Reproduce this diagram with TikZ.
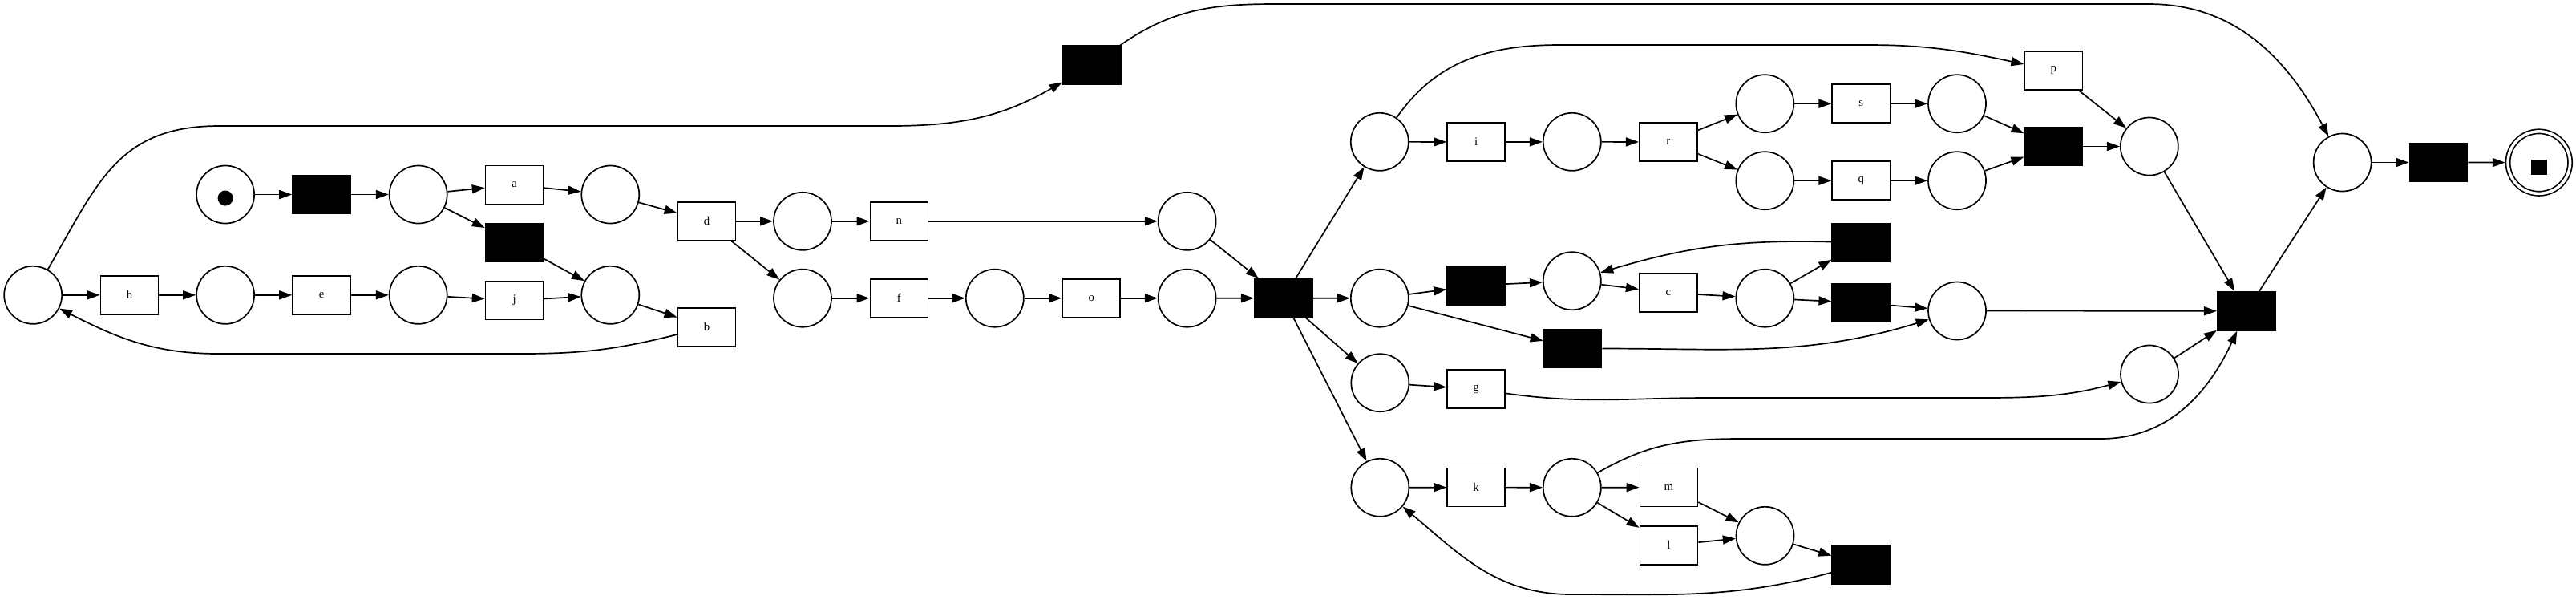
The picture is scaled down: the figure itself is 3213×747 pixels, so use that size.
\documentclass[tikz,border=0pt]{standalone}
\usepackage{fontspec}
\setmainfont{Liberation Serif}
\usetikzlibrary{arrows.meta}

\tikzset{
  place/.style={draw, circle, minimum size=0.72cm, inner sep=0pt, line width=0.48pt},
  trans/.style={draw, rectangle, minimum width=0.72cm, minimum height=0.48cm, inner sep=0pt,
    line width=0.48pt, font=\fontsize{4.2}{5}\selectfont},
  silent/.style={trans, fill=black},
  final/.style={place, double, double distance=0.035cm, minimum size=0.775cm, outer sep=0.033cm},
  arc/.style={-{Triangle[length=0.16cm,width=0.11cm]}, line width=0.48pt}
}

\begin{document}
\begin{tikzpicture}[x=0.01cm, y=0.01cm]
    \useasboundingbox (0,0) rectangle (3213,-747);

    \node[place] (src) at (281.1,-242.5) {};
    \fill ([yshift=-0.045cm]src.center) circle[radius=0.095cm];
    \node[silent] (t1) at (401.1,-242.5) {};
    \node[place] (p1) at (521.7,-242.5) {};
    \node[trans] (a) at (641.6,-230.5) {a};
    \node[silent] (t2) at (641.6,-302.5) {};
    \node[place] (p2) at (761.3,-242.5) {};
    \node[trans] (d) at (881.5,-275.8) {d};

    \node[place] (p0) at (41.2,-367.8) {};
    \node[trans] (h) at (161.5,-367.8) {h};
    \node[place] (p3) at (281.1,-367.8) {};
    \node[trans] (e) at (401.1,-367.8) {e};
    \node[place] (p4) at (521.7,-367.8) {};
    \node[trans] (j) at (641.6,-374.5) {j};
    \node[place] (p5) at (761.3,-367.8) {};
    \node[trans] (b) at (881.5,-407.8) {b};

    \node[silent] (t3) at (1361.8,-81.2) {};
    \node[place] (p6) at (1001,-275.8) {};
    \node[trans] (n) at (1121.4,-275.8) {n};
    \node[place] (p8) at (1480.6,-275.8) {};
    \node[place] (p7) at (1001,-371.7) {};
    \node[trans] (f) at (1121.4,-371.7) {f};
    \node[place] (p9) at (1240.8,-371.7) {};
    \node[trans] (o) at (1361.2,-371.7) {o};
    \node[place] (p10) at (1480.6,-371.7) {};
    \node[silent] (t4) at (1600.8,-371.8) {};

    \node[place] (p11) at (1720.8,-176.8) {};
    \node[trans] (i) at (1841.1,-177) {i};
    \node[place] (p12) at (1960.8,-176.8) {};
    \node[trans] (r) at (2080.8,-177) {r};
    \node[place] (p13) at (2201.3,-129.2) {};
    \node[trans] (s) at (2321.3,-129.2) {s};
    \node[place] (p15) at (2441,-129.2) {};
    \node[place] (p14) at (2201.3,-225.2) {};
    \node[trans] (q) at (2321.3,-225.2) {q};
    \node[place] (p16) at (2441,-225.2) {};
    \node[trans] (p) at (2561.3,-87.8) {p};
    \node[silent] (t9) at (2561.3,-182.5) {};
    \node[place] (p17) at (2680.8,-182.5) {};

    \node[place] (p18) at (1720.8,-371.7) {};
    \node[silent] (t5) at (1841.1,-355.8) {};
    \node[place] (p19) at (1960.8,-350.2) {};
    \node[trans] (c) at (2080.8,-365) {c};
    \node[place] (p20) at (2201.3,-371.7) {};
    \node[silent] (t6) at (2321.3,-302.5) {};
    \node[silent] (t7) at (2321.3,-377.5) {};
    \node[place] (p21) at (2441,-387.5) {};
    \node[silent] (t8) at (1961.6,-434.5) {};

    \node[place] (p22) at (1721.3,-477.2) {};
    \node[trans] (g) at (1841.1,-485.2) {g};
    \node[place] (p23) at (2681,-466.5) {};

    \node[place] (p24) at (1721.3,-607.8) {};
    \node[trans] (k) at (1841.1,-607.5) {k};
    \node[place] (p25) at (1960.8,-607.8) {};
    \node[trans] (m) at (2081.4,-607.5) {m};
    \node[trans] (l) at (2081.4,-679.8) {l};
    \node[place] (p26) at (2201.5,-667.8) {};
    \node[silent] (t10) at (2321.3,-703.8) {};

    \node[silent] (t11) at (2801.8,-387.8) {};
    \node[place] (p27) at (2921.6,-202.5) {};
    \node[silent] (t12) at (3041.4,-202.5) {};
    \node[final] (sink) at (3166.8,-202.6) {};
    \fill ([xshift=-0.1cm,yshift=-0.15cm]sink.center) rectangle ++(0.2cm,0.187cm);

    \draw[arc] (src) -- (t1);
    \draw[arc] (t1) -- (p1);
    \draw[arc] (p1) -- (a);
    \draw[arc] (a) -- (p2);
    \draw[arc] (p2) -- (d);
    \draw[arc] (p1) -- (t2);
    \draw[arc] (t2) -- (p5);
    \draw[arc] (p0) -- (h);
    \draw[arc] (h) -- (p3);
    \draw[arc] (p3) -- (e);
    \draw[arc] (e) -- (p4);
    \draw[arc] (p4) -- (j);
    \draw[arc] (j) -- (p5);
    \draw[arc] (p5) -- (b);
    \draw[arc] (b) to[out=194,in=0] (650,-441) -- (273,-441) to[out=180,in=-27] (p0);
    \draw[arc] (p0) to[out=60,in=180,looseness=1.15] (273,-157) -- (1110,-157) to[out=0,in=-150] (t3);
    \draw[arc] (t3) to[out=35,in=180] (1590,-5) -- (2680,-5) to[out=0,in=118] (p27);

    \draw[arc] (d) -- (p6);
    \draw[arc] (d) -- (p7);
    \draw[arc] (p6) -- (n);
    \draw[arc] (n) -- (p8);
    \draw[arc] (p8) -- (t4);
    \draw[arc] (p7) -- (f);
    \draw[arc] (f) -- (p9);
    \draw[arc] (p9) -- (o);
    \draw[arc] (o) -- (p10);
    \draw[arc] (p10) -- (t4);

    \draw[arc] (t4) -- (p11);
    \draw[arc] (t4) -- (p18);
    \draw[arc] (t4) -- (p22);
    \draw[arc] (t4) -- (p24);

    \draw[arc] (p11) -- (i);
    \draw[arc] (i) -- (p12);
    \draw[arc] (p12) -- (r);
    \draw[arc] (r) -- (p13);
    \draw[arc] (r) -- (p14);
    \draw[arc] (p13) -- (s);
    \draw[arc] (s) -- (p15);
    \draw[arc] (p14) -- (q);
    \draw[arc] (q) -- (p16);
    \draw[arc] (p15) -- (t9);
    \draw[arc] (p16) -- (t9);
    \draw[arc] (t9) -- (p17);
    \draw[arc] (p11) to[out=55,in=180] (1945,-56) -- (2330,-56) to[out=0,in=168] (p);
    \draw[arc] (p) -- (p17);
    \draw[arc] (p17) -- (t11);

    \draw[arc] (p18) -- (t5);
    \draw[arc] (t5) -- (p19);
    \draw[arc] (p19) -- (c);
    \draw[arc] (c) -- (p20);
    \draw[arc] (p20) -- (t6);
    \draw[arc] (t6) to[bend right=9] (p19);
    \draw[arc] (p20) -- (t7);
    \draw[arc] (t7) -- (p21);
    \draw[arc] (p18) -- (t8);
    \draw[arc] (t8) to[out=0,in=-163] (p21);
    \draw[arc] (p21) -- (t11);

    \draw[arc] (p22) -- (g);
    \draw[arc] (g) to[out=-8,in=180] (2130,-496) -- (2440,-496) to[out=0,in=-165] (p23);
    \draw[arc] (p23) -- (t11);

    \draw[arc] (p24) -- (k);
    \draw[arc] (k) -- (p25);
    \draw[arc] (p25) -- (m);
    \draw[arc] (p25) -- (l);
    \draw[arc] (m) -- (p26);
    \draw[arc] (l) -- (p26);
    \draw[arc] (p26) -- (t10);
    \draw[arc] (t10) to[out=195,in=0] (1960,-741) to[out=180,in=-40] (p24);
    \draw[arc] (p25) to[out=30,in=180] (2170,-547) -- (2620,-547) to[out=0,in=-115] (t11);

    \draw[arc] (t11) -- (p27);
    \draw[arc] (p27) -- (t12);
    \draw[arc] (t12) -- (sink);
\end{tikzpicture}
\end{document}
